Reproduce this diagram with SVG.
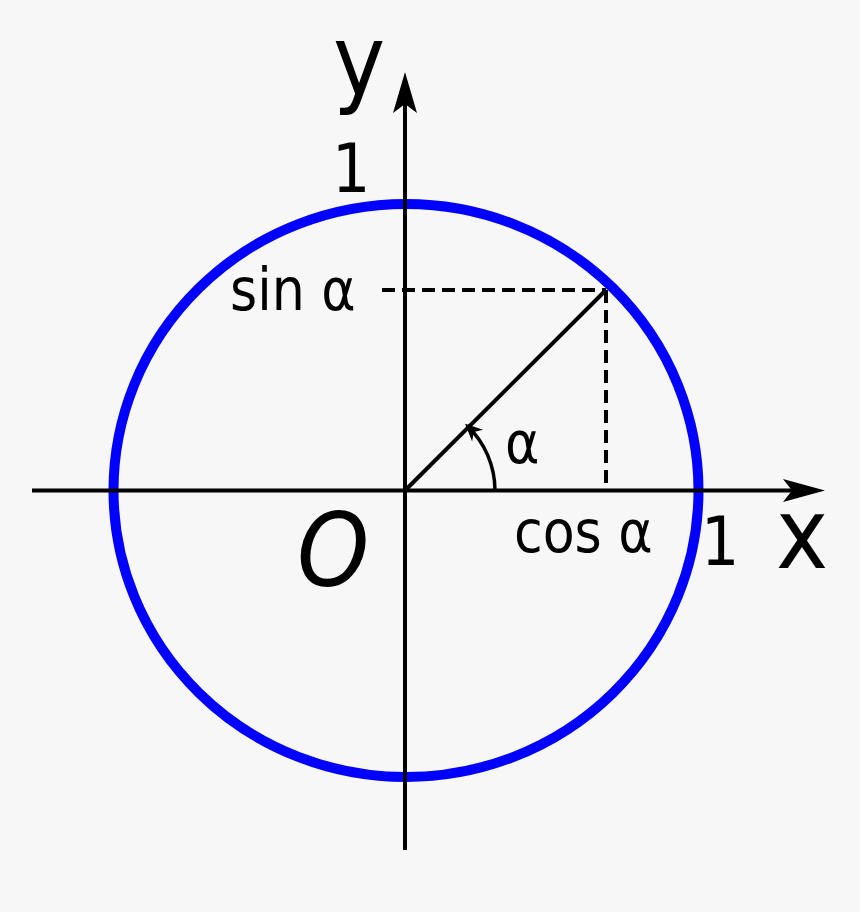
<svg xmlns="http://www.w3.org/2000/svg" width="860" height="912" viewBox="0 0 860 912">
  <style>
    .t { font-family: "DejaVu Sans Condensed", "DejaVu Sans", sans-serif; font-stretch: condensed; fill: #000; }
    .ax { stroke: #000; stroke-width: 4; fill: none; }
    .dash { stroke: #000; stroke-width: 4; stroke-dasharray: 13 7; fill: none; }
  </style>
  <defs>
    <marker id="small" markerUnits="userSpaceOnUse" markerWidth="24" markerHeight="24" viewBox="-14 -9 18 18" refX="0" refY="0" orient="auto">
      <path d="M 2 0 L -11 -6 L -7 0 L -11 6 Z" fill="#000"/>
    </marker>
  </defs>
  <rect width="860" height="912" fill="#f7f7f7"/>
  <g id="circle">
    <ellipse cx="406" cy="490.5" rx="292.5" ry="286.5" fill="none" stroke="#0000ff" stroke-width="10"/>
  </g>
  <g id="connectors">
    <line class="ax" x1="32" y1="490.5" x2="800" y2="490.5"/>
    <path d="M 825 490.5 L 783 479 L 792 490.5 L 783 502 Z" fill="#000"/>
    <line class="ax" x1="405" y1="850" x2="405" y2="95"/>
    <path d="M 405 72 L 393 113 L 405 104 L 417 113 Z" fill="#000"/>
    <line x1="405" y1="490.5" x2="606" y2="290" stroke="#000" stroke-width="4"/>
    <line class="dash" x1="382" y1="290" x2="606" y2="290"/>
    <line class="dash" x1="606" y1="290" x2="606" y2="490"/>
    <path d="M 495 490.5 A 90 90 0 0 0 467 425.5" fill="none" stroke="#000" stroke-width="3.5" marker-end="url(#small)"/>
  </g>
  <g id="labels">
    <text class="t" x="333" y="95" font-size="98">y</text>
    <text class="t" x="332" y="192" font-size="67">1</text>
    <text class="t" x="230" y="310" font-size="58">sin α</text>
    <text class="t" x="505" y="463" font-size="58">α</text>
    <text class="t" x="514" y="552" font-size="58">cos α</text>
    <text class="t" x="297" y="586" font-size="102" font-style="oblique">O</text>
    <text class="t" x="701" y="565" font-size="67">1</text>
    <text class="t" x="776" y="568" font-size="98">x</text>
  </g>
</svg>
